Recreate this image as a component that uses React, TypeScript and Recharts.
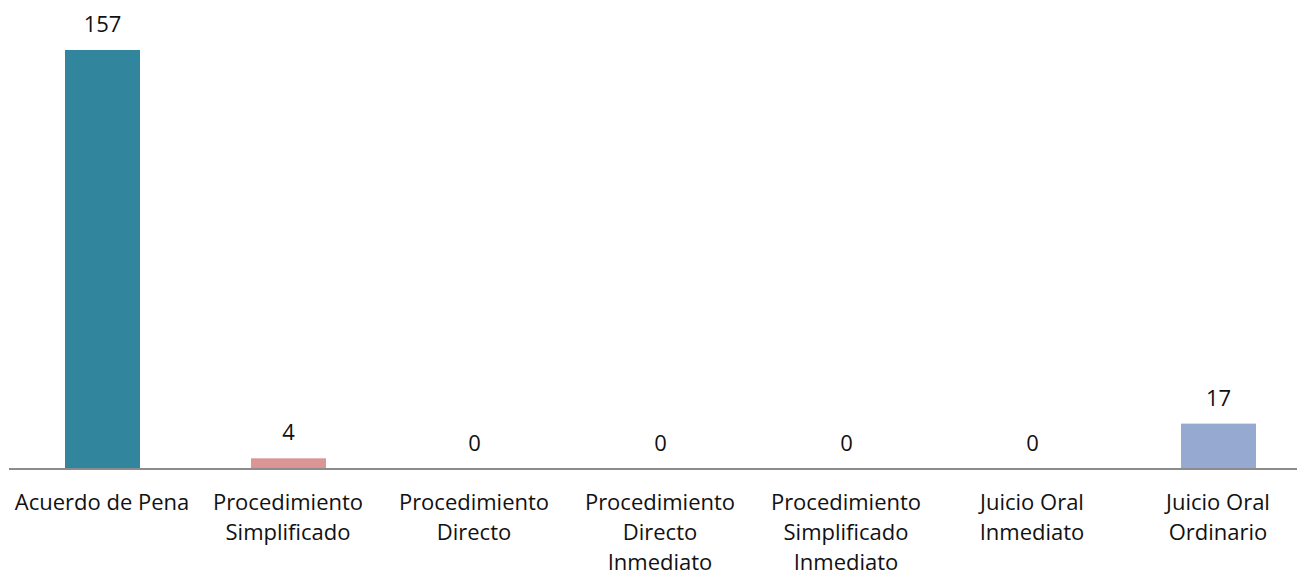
import React from "react";
import { Bar, BarChart, Cell, XAxis, YAxis } from "recharts";

const categories = [
  "Acuerdo de Pena",
  "Procedimiento Simplificado",
  "Procedimiento Directo",
  "Procedimiento Directo Inmediato",
  "Procedimiento Simplificado Inmediato",
  "Juicio Oral Inmediato",
  "Juicio Oral Ordinario",
];
const counts = [157, 4, 0, 0, 0, 0, 17];
const barColors = ["#31859C", "#D99694", "#31859C", "#31859C", "#31859C", "#31859C", "#95A9D1"];

const FONT = "'Open Sans', sans-serif";

const data = categories.map((name, i) => ({ name, value: counts[i] }));

// greedy word wrap, about what Excel does at this width
function wrap(label: string, maxChars = 15): string[] {
  const lines: string[] = [];
  let cur = "";
  for (const word of label.split(" ")) {
    const next = cur ? cur + " " + word : word;
    if (next.length > maxChars && cur) {
      lines.push(cur);
      cur = word;
    } else {
      cur = next;
    }
  }
  if (cur) lines.push(cur);
  return lines;
}

function CategoryTick(props: any) {
  const { x, y, payload } = props;
  const lines = wrap(String(payload.value));
  return (
    <text x={x} y={y} textAnchor="middle" fill="#111" fontSize={22} fontFamily={FONT}>
      {lines.map((line, i) => (
        <tspan key={i} x={x} y={y + 33 + i * 30}>
          {line}
        </tspan>
      ))}
    </text>
  );
}

// bar + value label in one shape so zero bars still get their "0"
function BarWithValue(props: any) {
  const { x, y, width, height, fill, value } = props;
  const h = Math.max(0, height || 0);
  return (
    <g>
      {h > 0 && <rect x={x} y={y} width={width} height={h} fill={fill} />}
      <text
        x={x + width / 2}
        y={y - 18}
        textAnchor="middle"
        fill="#111"
        fontSize={22}
        fontFamily={FONT}
      >
        {value}
      </text>
    </g>
  );
}

export default function App() {
  return (
    <div
      style={{
        position: "absolute",
        left: 0,
        top: 0,
        width: 1297,
        height: 574,
        overflow: "hidden",
        background: "#fff",
      }}
    >
      <BarChart
        width={1320}
        height={574}
        data={data}
        margin={{ top: 50, right: 9, bottom: 0, left: 9 }}
        barSize={75}
      >
        <XAxis
          dataKey="name"
          interval={0}
          height={105}
          tickLine={false}
          axisLine={{ stroke: "#8c8c8c", strokeWidth: 2 }}
          tick={<CategoryTick />}
        />
        <YAxis hide domain={[0, 157]} />
        <Bar dataKey="value" isAnimationActive={false} shape={<BarWithValue />}>
          {data.map((d, i) => (
            <Cell key={d.name} fill={barColors[i]} />
          ))}
        </Bar>
      </BarChart>
    </div>
  );
}
